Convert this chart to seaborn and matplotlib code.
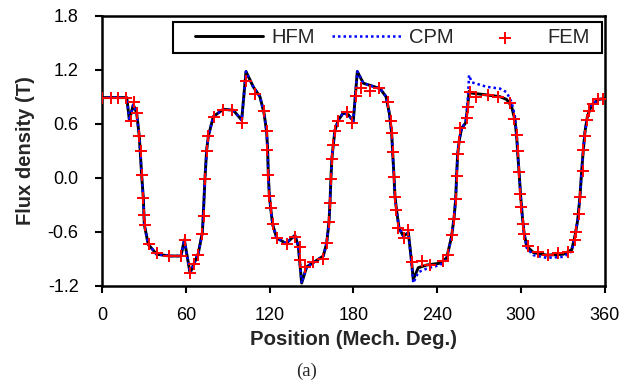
import matplotlib
matplotlib.use("Agg")
import matplotlib.pyplot as plt
import seaborn as sns
import pandas as pd
from matplotlib.ticker import FormatStrFormatter
from matplotlib.patches import Rectangle

# ---------------- data ----------------
pos_deg = [0, 17.5, 19.4, 22.2, 24.6, 26.5, 28.2, 29.4, 30.1, 32.9, 38.9, 48.5,
           56.4, 58.8, 62.9, 68.8, 71.7, 72.4, 73.6, 74.8, 76.0, 79.6, 86.7, 93.9,
           99.9, 103.0, 108.2, 113.0, 115.9, 117.8, 118.5, 119.0, 119.7, 120.7,
           122.1, 125.0, 131.7, 138.1, 140.5, 142.9, 146.5, 152.5, 158.4, 160.8,
           162.5, 163.2, 163.9, 164.6, 165.6, 166.8, 169.2, 172.7, 176.3, 179.9,
           182.8, 187.1, 193.1, 199.1, 203.4, 205.7, 207.4, 208.1, 209.1, 209.8,
           211.0, 212.7, 215.8, 219.4, 221.8, 222.9, 226.5, 232.5, 242.1, 246.9,
           250.4, 252.1, 253.3, 254.0, 254.7, 255.9, 257.6, 260.5, 261.9, 262.9,
           264.8, 275.5, 285.1, 289.8, 293.4, 295.8, 297.0, 298.1, 298.9, 299.9,
           301.1, 302.3, 304.2, 308.9, 318.5, 330.5, 336.5, 338.8, 340.8, 342.4,
           343.6, 344.8, 346.0, 347.7, 350.8, 355.6, 360]

hfm_b = [0.89, 0.89, 0.64, 0.81, 0.72, 0.46, 0.03, -0.23, -0.52, -0.74, -0.85, -0.87,
         -0.87, -0.69, -1.06, -0.84, -0.61, -0.41, 0.00, 0.31, 0.46, 0.68, 0.76, 0.75,
         0.64, 1.18, 1.01, 0.90, 0.72, 0.51, 0.31, 0.03, -0.19, -0.34,
         -0.52, -0.67, -0.73, -0.64, -0.76, -1.17, -0.99, -0.93, -0.87, -0.73,
         -0.49, -0.28, 0.00, 0.22, 0.37, 0.53, 0.64, 0.72, 0.70, 0.63,
         1.18, 1.05, 1.02, 0.99, 0.90, 0.72, 0.50, 0.29, 0.015, -0.21,
         -0.37, -0.56, -0.65, -0.61, -0.95, -1.13, -1.00, -0.97, -0.95, -0.89,
         -0.65, -0.45, -0.24, 0.03, 0.26, 0.42, 0.55, 0.61, 0.79, 0.96,
         0.94, 0.92, 0.90, 0.87, 0.79, 0.64, 0.46, 0.20, 0.03, -0.21,
         -0.43, -0.61, -0.76, -0.83, -0.86, -0.85, -0.80, -0.65, -0.47, -0.21,
         0.07, 0.31, 0.51, 0.68, 0.81, 0.87, 0.88]

cpm_b = [0.89, 0.89, 0.64, 0.81, 0.72, 0.46, 0.03, -0.23, -0.52, -0.74, -0.85, -0.87,
         -0.87, -0.69, -1.06, -0.84, -0.61, -0.41, 0.00, 0.31, 0.46, 0.68, 0.76, 0.75,
         0.64, 1.18, 1.01, 0.90, 0.72, 0.51, 0.31, 0.03, -0.19, -0.34,
         -0.52, -0.67, -0.73, -0.64, -0.76, -1.17, -0.99, -0.93, -0.87, -0.73,
         -0.49, -0.28, 0.00, 0.22, 0.37, 0.53, 0.64, 0.72, 0.70, 0.63,
         1.18, 1.05, 1.02, 0.99, 0.90, 0.72, 0.50, 0.29, 0.015, -0.21,
         -0.37, -0.56, -0.65, -0.61, -0.97, -1.17, -1.05, -1.01, -0.97, -0.91,
         -0.65, -0.45, -0.24, 0.03, 0.26, 0.42, 0.55, 0.62, 0.85, 1.14,
         1.06, 1.01, 0.99, 0.95, 0.84, 0.68, 0.48, 0.20, 0.03, -0.21,
         -0.43, -0.61, -0.78, -0.86, -0.89, -0.88, -0.82, -0.65, -0.47, -0.21,
         0.07, 0.31, 0.51, 0.68, 0.81, 0.87, 0.88]

fem_deg = [0.0, 5.9, 11.4, 17.0, 20.5, 22.7, 25.0, 26.5, 27.5, 28.2, 29.4, 29.9,
           30.6, 33.5, 39.1, 47.9, 56.3, 59.5, 62.9, 65.4, 68.5, 71.7, 72.7, 73.7,
           74.8, 76.0, 80.1, 86.7, 93.3, 99.9, 103.3, 109.1, 115.9, 117.9, 118.4,
           119.1, 119.7, 120.7, 122.1, 125.0, 132.2, 138.1, 141.7, 142.0, 145.6,
           151.2, 158.4, 161.0, 162.4, 163.2, 163.9, 164.6, 165.3, 166.5, 169.2,
           175.1, 178.7, 182.0, 185.2, 191.9, 198.3, 204.6, 206.7, 207.4, 208.1,
           209.1, 209.8, 210.5, 212.2, 216.3, 219.4, 221.8, 228.9, 234.9, 244.4,
           248.0, 250.4, 252.3, 253.3, 254.0, 254.7, 255.7, 256.4, 261.2, 262.4,
           263.6, 267.9, 276.7, 283.9, 292.0, 295.3, 297.0, 298.1, 298.7, 299.4,
           300.1, 301.3, 302.5, 305.4, 312.5, 319.3, 326.4, 334.1, 338.8, 339.6,
           341.7, 342.4, 344.3, 344.8, 346.0, 347.2, 349.1, 351.5, 355.6, 359.2]

fem_b = [0.89, 0.89, 0.89, 0.89, 0.63, 0.84, 0.72, 0.46, 0.30, 0.03, -0.23, -0.41,
         -0.53, -0.74, -0.84, -0.87, -0.87, -0.69, -1.06, -0.96, -0.86, -0.62, -0.42, -0.01,
         0.30, 0.46, 0.68, 0.75, 0.75, 0.61, 1.08, 0.93, 0.74, 0.52, 0.31,
         0.03, -0.20, -0.34, -0.51, -0.67, -0.74, -0.66, -0.77, -0.91, -0.99,
         -0.94, -0.90, -0.73, -0.49, -0.28, -0.01, 0.21, 0.36, 0.52, 0.63,
         0.73, 0.61, 0.91, 1.00, 0.96, 1.00, 0.84, 0.63, 0.50, 0.29,
         0.01, -0.21, -0.36, -0.56, -0.67, -0.58, -0.94, -0.93, -0.97, -0.93,
         -0.86, -0.64, -0.46, -0.24, 0.02, 0.26, 0.40, 0.55, 0.66, 0.79,
         0.95, 0.90, 0.92, 0.90, 0.83, 0.65, 0.47, 0.30, 0.06, -0.18,
         -0.32, -0.51, -0.62, -0.76, -0.83, -0.86, -0.84, -0.82, -0.69, -0.60,
         -0.40, -0.21, 0.07, 0.31, 0.46, 0.64, 0.74, 0.82, 0.87, 0.88]

x_ticks = [0, 60, 120, 180, 240, 300, 360]
y_ticks = [-1.2, -0.6, 0.0, 0.6, 1.2, 1.8]

# ---------------- styling ----------------
sns.set_style("ticks")
plt.rcParams["font.family"] = ["Liberation Sans", "DejaVu Sans"]

lines_df = pd.DataFrame({"pos": pos_deg, "HFM": hfm_b, "CPM": cpm_b})
fem_df = pd.DataFrame({"pos": fem_deg, "FEM": fem_b})

fig = plt.figure(figsize=(6.32, 3.83), dpi=100)
ax = fig.add_axes([0.1619, 0.254, 0.9565 - 0.1619, 0.959 - 0.254])

sns.lineplot(data=lines_df, x="pos", y="HFM", ax=ax, color="black", lw=2.1,
             estimator=None, sort=False, label="HFM")
sns.lineplot(data=lines_df, x="pos", y="CPM", ax=ax, color="#0000FF", lw=1.8,
             linestyle=(0, (1, 1.2)), estimator=None, sort=False, label="CPM")
sns.scatterplot(data=fem_df, x="pos", y="FEM", ax=ax, marker="+", color="#FF0000",
                s=64, linewidth=1.4, label="FEM", zorder=5)

ax.set_xlim(0, 360)
ax.set_ylim(-1.2, 1.8)
ax.set_xticks(x_ticks)
ax.set_yticks(y_ticks)
ax.yaxis.set_major_formatter(FormatStrFormatter("%.1f"))
ax.tick_params(axis="both", direction="out", length=5, width=1.5, labelsize=13,
               colors="black")
ax.tick_params(axis="x", pad=10)
ax.tick_params(axis="y", pad=12)
for sp in ax.spines.values():
    sp.set_visible(True)
    sp.set_linewidth(1.8)
    sp.set_color("black")

ax.set_xlabel("Position (Mech. Deg.)", fontsize=14.7, fontweight="bold", labelpad=5)
ax.set_ylabel("Flux density (T)", fontsize=14.5, fontweight="bold", labelpad=9)

# legend frame box as in the reference (axes fraction)
ax.add_patch(Rectangle((0.1408, 0.8619), 0.995 - 0.1408, 0.9767 - 0.8619,
                       transform=ax.transAxes, facecolor="white", edgecolor="black",
                       linewidth=1.5, zorder=8))
leg = ax.legend(loc="center left", bbox_to_anchor=(0.1846, 0.919), ncol=3,
                fontsize=14.5, frameon=False, handlelength=3.4, handletextpad=0.4,
                columnspacing=0.85, borderpad=0, borderaxespad=0)
leg.set_zorder(9)

fig.text(0.4855, 0.031, "(a)", ha="center", va="center", fontsize=13.5,
         family=["Liberation Serif", "DejaVu Serif"])

fig.savefig("out.png", dpi=100)
